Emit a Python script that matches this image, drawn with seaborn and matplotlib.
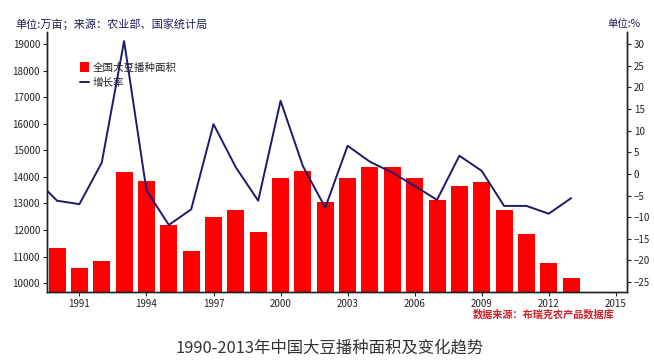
import matplotlib
matplotlib.use("Agg")
import matplotlib.pyplot as plt
import seaborn as sns
import pandas as pd
from matplotlib.patches import Patch
from matplotlib.lines import Line2D

years = list(range(1990, 2014))
area = [11320, 10580, 10820, 14180, 13840, 12180, 11200, 12500, 12760, 11940,
        13960, 14210, 13050, 13960, 14390, 14390, 13960, 13140, 13670, 13790,
        12760, 11840, 10760, 10190]
line_years = list(range(1989, 2014))
growth = [-1.0, -6.2, -7.0, 2.6, 30.7, -3.8, -11.8, -8.2, 11.5, 1.5, -6.2,
          16.9, 1.8, -7.8, 6.5, 2.8, 0.3, -2.8, -6.0, 4.2, 0.7, -7.4, -7.4,
          -9.2, -5.6]
xticks = [1991, 1994, 1997, 2000, 2003, 2006, 2009, 2012, 2015]

sns.set_style("white")
plt.rcParams['font.family'] = ['Noto Sans CJK SC', 'DejaVu Sans']

bars = pd.DataFrame({"year": years, "area": area})
rate = pd.DataFrame({"year": line_years, "rate": growth})

fig = plt.figure(figsize=(6.54, 3.63), dpi=100)
ax = fig.add_axes([47 / 654, 1 - 292 / 363, 580 / 654, 260 / 363])

sns.barplot(data=bars, x="year", y="area", native_scale=True, width=0.76,
            color="#ff0000", saturation=1, edgecolor="none", ax=ax)
ax.set_ylim(9670, 19450)
ax.set_xlim(1989.55, 2015.5)
ax.set_yticks(range(10000, 19001, 1000))
ax.set_xticks(xticks)
ax.set_xlabel("")
ax.set_ylabel("")

ax2 = ax.twinx()
sns.lineplot(data=rate, x="year", y="rate", color="#1c1a6a", linewidth=1.4,
             ax=ax2)
ax2.set_ylim(-27.3, 32.8)
ax2.set_yticks(range(-25, 31, 5))
ax2.set_xlim(1989.55, 2015.5)
ax2.set_ylabel("")

for a in (ax, ax2):
    a.spines['top'].set_visible(False)
    for s in a.spines.values():
        s.set_color("#222222")
        s.set_linewidth(1.0)
    a.tick_params(labelsize=7, colors="#222222", length=3, width=0.8)
ax.tick_params(axis='y', left=True, pad=2)
ax.tick_params(axis='x', bottom=True, pad=2)
ax2.tick_params(axis='y', right=True, pad=2)

handles = [Patch(facecolor="#ff0000", edgecolor="none"),
           Line2D([0], [0], color="#1c1a6a", linewidth=1.4)]
ax.legend(handles, ["全国大豆播种面积", "增长率"], loc="upper left",
          bbox_to_anchor=(0.05, 0.9), frameon=False, fontsize=7.6,
          handlelength=0.8, handleheight=1.1, handletextpad=0.4,
          labelspacing=0.45, borderaxespad=0)

fig.text(15 / 654, 1 - 24 / 363, "单位:万亩；来源：农业部、国家统计局",
         fontsize=8, color="#1e1e5a", va="center", ha="left")
fig.text(641 / 654, 1 - 24 / 363, "单位:%", fontsize=7.5, color="#1e1e5a",
         va="center", ha="right")
fig.text(615 / 654, 1 - 314 / 363, "数据来源：布瑞克农产品数据库",
         fontsize=7.3, color="#d0202a", va="center", ha="right",
         fontweight="bold")
fig.text(330 / 654, 1 - 348 / 363, "1990-2013年中国大豆播种面积及变化趋势",
         fontsize=11.8, color="#333333", va="center", ha="center",
         fontweight="light")

fig.savefig("out.png", dpi=100)
